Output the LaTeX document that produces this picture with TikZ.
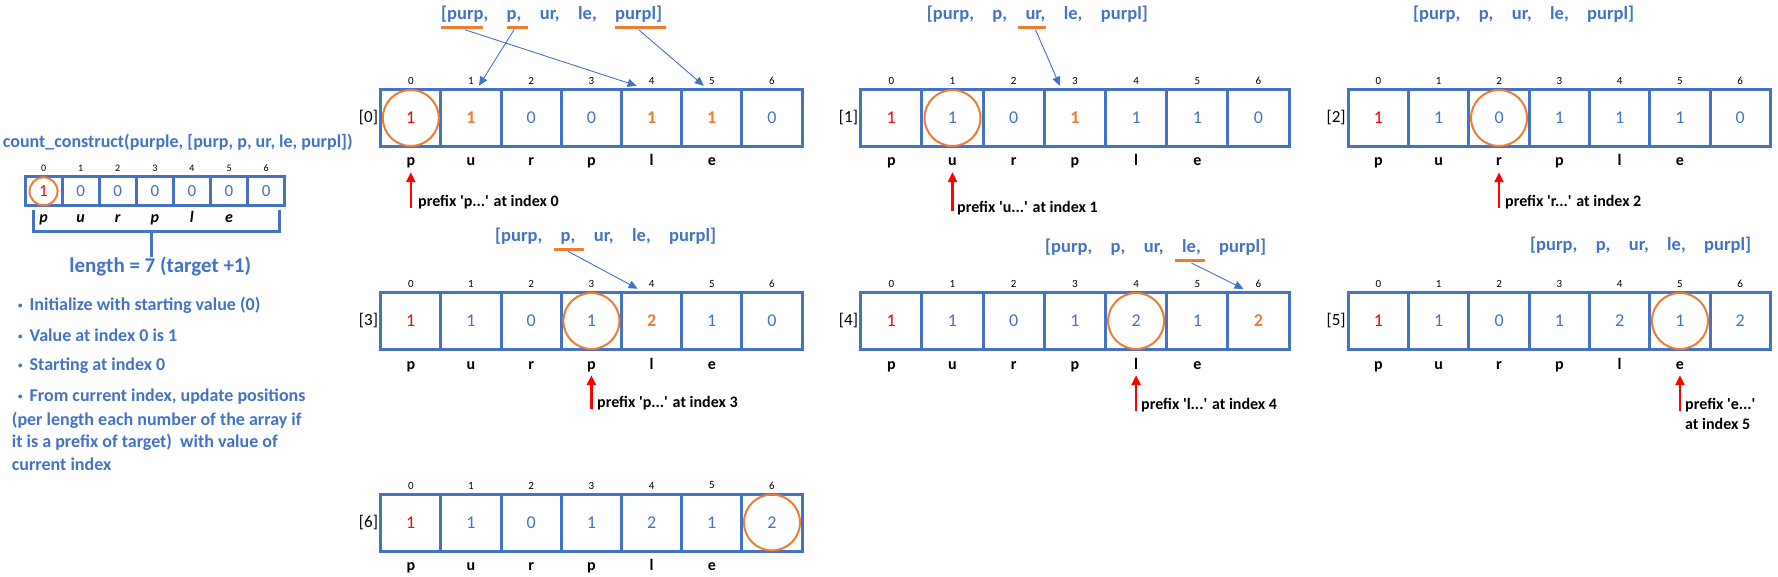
\documentclass[tikz,border=0pt]{standalone}
\usepackage{fontspec}
\setmainfont{Carlito}
\usepackage{tikz}
\usetikzlibrary{positioning}
\usetikzlibrary{arrows.meta}

\definecolor{ablue}{HTML}{4472C4}
\definecolor{aorange}{HTML}{ED7D31}
\newcommand\vred{\color{red}}
\newcommand\vnew{\color{aorange}\bfseries}
\newcommand\bmark{\raisebox{2pt}{\fontsize{9}{9}\selectfont\textbullet}\hspace{7pt}}

\tikzset{
  cell/.style={draw=ablue, line width=3pt, minimum height=57pt, inner sep=0pt, text=ablue, font=\fontsize{18}{20}\selectfont},
  scell/.style={draw=ablue, line width=3pt, minimum width=37.1pt, minimum height=29.3pt, inner sep=0pt, text=ablue, font=\fontsize{17}{18}\selectfont},
  idx/.style={font=\fontsize{11}{12}\selectfont, inner sep=1pt},
  letter/.style={font=\fontsize{16}{18}\selectfont\bfseries, text height=11pt, text depth=4pt, inner sep=2pt},
  sletter/.style={letter, font=\fontsize{16}{18}\selectfont\bfseries\itshape},
  arrname/.style={font=\fontsize{17}{18}\selectfont, anchor=east, inner sep=0pt},
  lst/.style={text=ablue, font=\fontsize{18.5}{20}\selectfont\bfseries, inner sep=0pt, text height=13pt, text depth=4pt},
  uline/.style={draw=aorange, line width=3pt},
  barr/.style={draw=ablue, line width=0.9pt, -{Triangle[width=8pt,length=9pt]}},
  rarr/.style={draw=red, line width=2.5pt, -{Triangle[width=9pt,length=10pt]}},
  pfx/.style={font=\fontsize{16}{20}\selectfont\bfseries, anchor=west, inner sep=0pt},
  hl/.style={draw=aorange, line width=2pt},
  brk/.style={draw=ablue, line width=3pt},
  note/.style={text=ablue, font=\fontsize{18}{22.3}\selectfont\bfseries, anchor=west, inner sep=0pt},
}

\begin{document}
\begin{tikzpicture}[x=1pt, y=-1pt, node distance=18pt]
  \useasboundingbox (0,0) rectangle (1778,577);

  \node[note, font=\fontsize{18}{20}\selectfont\bfseries] (title) at (2.7,142.7) {count\_construct(purple, [purp, p, ur, le, purpl])};
  \foreach \v [count=\k from 0] in {\vred 1,0,0,0,0,0,0} {
    \node[scell] (s\k) at ({25+(\k+0.5)*37.1},191.35) {\v};
    \node[idx, font=\fontsize{10}{11}\selectfont] (si\k) at ({25+(\k+0.5)*37.1},168.3) {\k};
  }
  \foreach \c [count=\k from 0] in {p,u,r,p,l,e}
    \node[sletter] (sl\k) at ({25+(\k+0.5)*37.1},219) {\c};
  \draw[hl] (s0) circle (14);
  \draw[brk] (33.3,210) -- (33.3,231.7) -- (279.3,231.7) -- (279.3,210);
  \node[text=ablue, font=\fontsize{21}{24}\selectfont\bfseries, inner sep=0pt] (len) at (160.3,266.7) {length = 7 (target +1)};
  \coordinate (stem) at (151.7,231.7);
  \draw[brk] (stem) -- (stem |- len.north);

  \node[note] (b1) at (18,305) {\bmark Initialize with starting value (0)};
  \node[note] (b2) at (18,335) {\bmark Value at index 0 is 1};
  \node[note] (b3) at (18,366) {\bmark Starting at index 0};
  \node[note] (b4) at (18,396.7) {\bmark From current index, update positions};
  \node[note, anchor=north west, align=left] (b5) at (11.7,412) {(per length each number of the array if\\it is a prefix of target)\ \ with value of\\current index};

  \foreach \n/\x/\y/\w/\vals in {
      0/380.7/89.5/60.2/{\vred 1,\vnew 1,0,0,\vnew 1,\vnew 1,0},
      1/860.7/89.5/61.2/{\vred 1,1,0,\vnew 1,1,1,0},
      2/1348.3/89.5/60.3/{\vred 1,1,0,1,1,1,0},
      3/380.7/292.5/60.2/{\vred 1,1,0,1,\vnew 2,1,0},
      4/860.7/292.5/61.2/{\vred 1,1,0,1,2,1,\vnew 2},
      5/1348.3/292.5/60.3/{\vred 1,1,0,1,2,1,2},
      6/380.7/494/60.2/{\vred 1,1,0,1,2,1,2}} {
    \node[arrname] (n\n) at ({\x-2.5},{\y+28.5}) {[\n]};
    \foreach \v [count=\k from 0] in \vals {
      \node[cell, minimum width=\w] (a\n-c\k) at ({\x+(\k+0.5)*\w},{\y+28.5}) {\v};
      \node[idx] (a\n-i\k) at ({\x+(\k+0.5)*\w},{\y-8.5}) {\k};
    }
    \foreach \c [count=\k from 0] in {p,u,r,p,l,e}
      \node[letter] (a\n-l\k) at ({\x+(\k+0.5)*\w},{\y+73}) {\c};
    \draw[hl] (a\n-c\n) circle (28);
  }

  \foreach \m/\x/\y in {0/441/15, 1/926.7/15, 2/1413/15, 3/495/236.7, 4/1045/248.3, 5/1530/246} {
    \node[lst, anchor=west] (w\m-1) at (\x,\y) {[purp,};
    \node[lst, right=of w\m-1] (w\m-2) {p,};
    \node[lst, right=of w\m-2] (w\m-3) {ur,};
    \node[lst, right=of w\m-3] (w\m-4) {le,};
    \node[lst, right=of w\m-4] (w\m-5) {purpl]};
  }

  \draw[uline] ([yshift=-4pt]w0-1.south west) -- ([yshift=-4pt,xshift=-6pt]w0-1.south east);
  \draw[uline] ([yshift=-4pt]w0-2.south west) -- ([yshift=-4pt,xshift=6pt]w0-2.south east);
  \draw[uline] ([yshift=-4pt]w0-5.south west) -- ([yshift=-4pt,xshift=4pt]w0-5.south east);
  \draw[uline] ([yshift=-4pt,xshift=-7pt]w1-3.south west) -- ([yshift=-4pt]w1-3.south east);
  \draw[uline] ([yshift=-4pt,xshift=-7pt]w3-2.south west) -- ([yshift=-4pt,xshift=8pt]w3-2.south east);
  \draw[uline] ([yshift=-4pt,xshift=-7pt]w4-4.south west) -- ([yshift=-4pt,xshift=4pt]w4-4.south east);
  \draw[barr] ([yshift=-6pt]w0-1.south) -- ([xshift=-15pt]a0-i4.south);
  \draw[barr] ([yshift=-6pt]w0-2.south) -- ([xshift=8pt]a0-i1.south);
  \draw[barr] ([yshift=-6pt]w0-5.south) -- ([xshift=-8pt]a0-i5.south);
  \draw[barr] ([yshift=-6pt]w1-3.south) -- ([xshift=-15pt]a1-i3.south);
  \draw[barr] ([yshift=-6pt]w3-2.south) -- ([xshift=-14pt]a3-i4.south);
  \draw[barr] ([yshift=-6pt]w4-4.south) -- ([xshift=-15pt]a4-i6.south);

  \node[pfx] (t0) at (418,202) {prefix \textquotesingle p...\textquotesingle{} at index 0};
  \node[pfx] (t1) at (957,208) {prefix \textquotesingle u...\textquotesingle{} at index 1};
  \node[pfx] (t2) at (1505,202) {prefix \textquotesingle r...\textquotesingle{} at index 2};
  \node[pfx] (t3) at (597,403) {prefix \textquotesingle p...\textquotesingle{} at index 3};
  \node[pfx] (t4) at (1141,405) {prefix \textquotesingle l...\textquotesingle{} at index 4};
  \node[pfx, anchor=north west, align=left, font=\fontsize{16}{20}\selectfont\bfseries] (t5) at (1685,398) {prefix \textquotesingle e...\textquotesingle\\at index 5};
  \coordinate (r0) at (a0-l0 |- 0,208);
  \coordinate (r1) at (a1-l1 |- 0,211);
  \coordinate (r2) at (a2-l2 |- 0,208);
  \coordinate (r3) at (a3-l3 |- 0,409);
  \coordinate (r4) at (a4-l4 |- 0,411);
  \coordinate (r5) at (a5-l5 |- 0,411);
  \draw[rarr] (r0) -- (a0-l0);
  \draw[rarr] (r1) -- (a1-l1);
  \draw[rarr] (r2) -- (a2-l2);
  \draw[rarr] (r3) -- (a3-l3);
  \draw[rarr] (r4) -- (a4-l4);
  \draw[rarr] (r5) -- (a5-l5);
\end{tikzpicture}
\end{document}
